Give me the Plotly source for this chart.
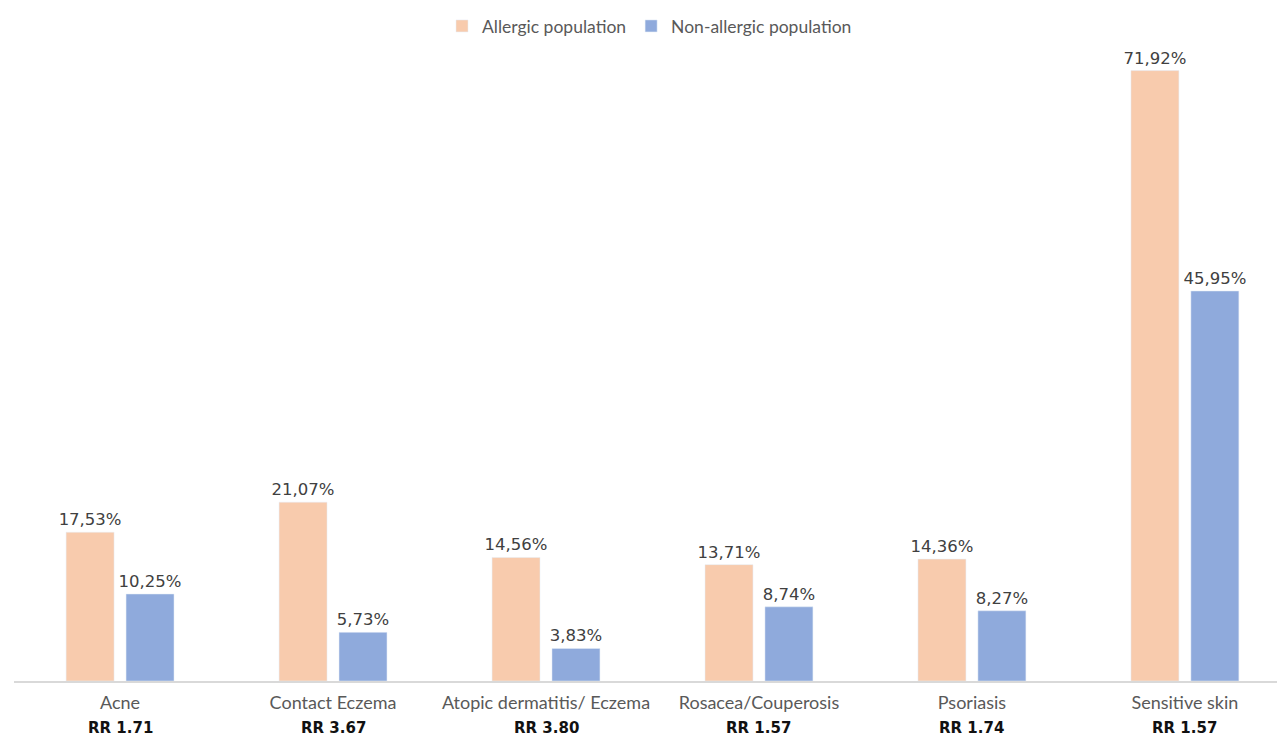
import plotly.graph_objects as go

categories = ["Acne", "Contact Eczema", "Atopic dermatitis/ Eczema", "Rosacea/Couperosis", "Psoriasis", "Sensitive skin"]
allergic = [17.53, 21.07, 14.56, 13.71, 14.36, 71.92]
non_allergic = [10.25, 5.73, 3.83, 8.74, 8.27, 45.95]
rr_labels = ["RR 1.71", "RR 3.67", "RR 3.80", "RR 1.57", "RR 1.74", "RR 1.57"]

orange = "#F8CBAD"
blue = "#8FAADC"
idx = list(range(len(categories)))

value_font = dict(family="DejaVu Sans", size=16.5, color="#404040")

fig = go.Figure()
fig.add_trace(go.Bar(x=idx, y=allergic, name="Allergic population", marker_color=orange,
                     texttemplate="%{y:.2f}%", textposition="outside", cliponaxis=False,
                     constraintext="none", textfont=value_font))
fig.add_trace(go.Bar(x=idx, y=non_allergic, name="Non-allergic population", marker_color=blue,
                     texttemplate="%{y:.2f}%", textposition="outside", cliponaxis=False,
                     constraintext="none", textfont=value_font))

for i, rr in enumerate(rr_labels):
    fig.add_annotation(x=i, xref="x", y=-0.0735, yref="paper", text="<b>" + rr + "</b>",
                       showarrow=False, yanchor="middle",
                       font=dict(family="DejaVu Sans", size=15, color="#111111"))

fig.update_layout(
    width=1277, height=730,
    margin=dict(l=6, r=0, t=32, b=57),
    paper_bgcolor="white", plot_bgcolor="white",
    separators=",.",
    barmode="group", bargap=0.437, bargroupgap=0.2,
    showlegend=True,
    legend=dict(orientation="h", x=0.5, xanchor="center", y=1.033, yanchor="middle",
                font=dict(family="Lato", size=17.5, color="#595959"),
                itemwidth=30, traceorder="normal"),
    xaxis=dict(tickmode="array", tickvals=idx, ticktext=categories, range=[-0.498, 5.47],
               showline=True, linecolor="#D9D9D9", linewidth=1.5, ticks="",
               showgrid=False, zeroline=False, ticklabelstandoff=5,
               tickfont=dict(family="Lato", size=18, color="#595959")),
    yaxis=dict(range=[0, 74.7], visible=False, showgrid=False, zeroline=False),
)

fig.write_html("out.html")
